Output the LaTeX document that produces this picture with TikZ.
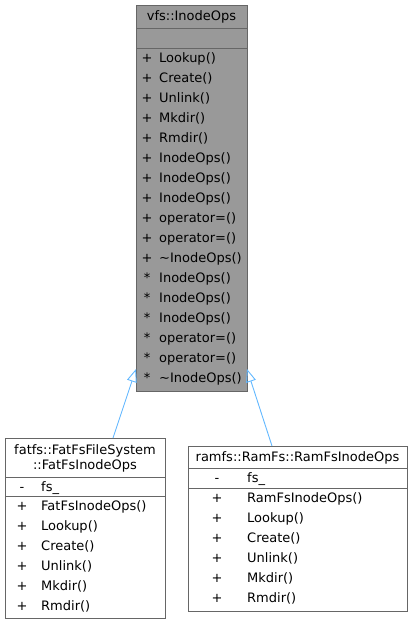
\documentclass[tikz,border=0pt]{standalone}
\usepackage{fontspec}
\setmainfont{DejaVu Sans}
\usetikzlibrary{arrows.meta}
\definecolor{boxline}{HTML}{666666}
\definecolor{basefill}{HTML}{999999}
\definecolor{inhcol}{HTML}{63B8FF}
\begin{document}
\begin{tikzpicture}[x=1pt,y=-1pt,
  cls/.style={draw=boxline, line width=0.9pt, anchor=north west, inner sep=0pt, outer sep=0pt},
  sep/.style={draw=boxline, line width=0.9pt},
  txt/.style={anchor=base west, inner sep=0pt, font=\fontsize{13}{15}\selectfont},
  sym/.style={anchor=base, inner sep=0pt, font=\fontsize{13}{15}\selectfont},
  ttl/.style={anchor=base, inner sep=0pt, font=\fontsize{13}{15}\selectfont},
  inh/.style={draw=inhcol, line width=0.9pt, -{Triangle[open, length=13pt, width=10pt]}}]
\useasboundingbox (0,0) rectangle (413,624);
% base class
\node[cls, fill=basefill, minimum width=111pt, minimum height=386pt] (base) at (136,5) {};
\draw[sep] (136,28) -- (247,28);
\draw[sep] (136,48) -- (247,48);
\node[ttl] (basettl) at (191.5,20.5) {vfs::InodeOps};
\foreach \s/\t [count=\i from 0] in {+/Lookup(),+/Create(),+/Unlink(),+/Mkdir(),+/Rmdir(),+/InodeOps(),+/InodeOps(),+/InodeOps(),+/operator=(),+/operator=(),+/\textasciitilde InodeOps(),*/InodeOps(),*/InodeOps(),*/InodeOps(),*/operator=(),*/operator=(),*/\textasciitilde InodeOps()}{
  \node[sym] (bs\i) at (147,62+20*\i) {\s};
  \node[txt] (bt\i) at (159,62+20*\i) {\t};
}
% FatFs class
\node[cls, fill=white, minimum width=160pt, minimum height=180pt] (fat) at (5,438) {};
\draw[sep] (5,477) -- (165,477);
\draw[sep] (5,496) -- (165,496);
\node[ttl] (fatttl1) at (85,454.5) {fatfs::FatFsFileSystem};
\node[ttl] (fatttl2) at (85,469.5) {::FatFsInodeOps};
\node[sym] (fs0) at (22,491) {-};
\node[txt] (ft0) at (41,491) {fs\_};
\foreach \t [count=\i from 1] in {FatFsInodeOps(),Lookup(),Create(),Unlink(),Mkdir(),Rmdir()}{
  \node[sym] (fs\i) at (22,490.5+20*\i) {+};
  \node[txt] (ft\i) at (41,490.5+20*\i) {\t};
}
% RamFs class
\node[cls, fill=white, minimum width=219pt, minimum height=165pt] (ram) at (188,446) {};
\draw[sep] (188,468) -- (407,468);
\draw[sep] (188,488) -- (407,488);
\node[ttl] (ramttl) at (297.5,461.5) {ramfs::RamFs::RamFsInodeOps};
\node[sym] (rs0) at (217,482) {-};
\node[txt] (rt0) at (247,482) {fs\_};
\foreach \t [count=\i from 1] in {RamFsInodeOps(),Lookup(),Create(),Unlink(),Mkdir(),Rmdir()}{
  \node[sym] (rs\i) at (217,482+20*\i) {+};
  \node[txt] (rt\i) at (247,482+20*\i) {\t};
}
% inheritance
\coordinate (fattop) at (113,438);
\coordinate (ramtop) at (272,446);
\coordinate (basel) at (136,369);
\coordinate (baser) at (247,369);
\draw[inh] (fattop) -- (basel);
\draw[inh] (ramtop) -- (baser);
\end{tikzpicture}
\end{document}
